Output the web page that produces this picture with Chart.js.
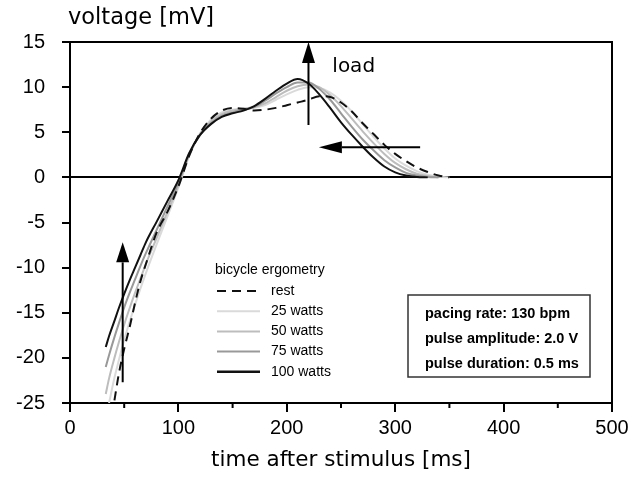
<!DOCTYPE html>
<html>
<head>
<meta charset="utf-8">
<script src="https://cdn.jsdelivr.net/npm/chart.js@4.4.1/dist/chart.umd.min.js"></script>
<style>
  body { margin: 0; background: #fff; }
  #wrap { width: 644px; height: 477px; position: relative; }
</style>
</head>
<body>
<div id="wrap"><canvas id="myChart"></canvas></div>
<script>
'use strict'
// time after stimulus [ms]
let times = [33, 36, 41, 45, 50, 55, 60, 65, 70, 80, 90, 100, 110, 120, 130, 140, 150, 160, 170, 180,
  190, 200, 210, 220, 230, 240, 250, 260, 270, 280, 290, 300, 310, 320, 330, 340, 350]
// voltage [mV] per load level
let rest = [null, null, -24.7, -21.8, -19.0, -16.6, -13.9, -11.5, -9.6, -6.1, -3.8, -1.0, 2.4, 4.9, 6.5, 7.4, 7.7, 7.6, 7.4, 7.5,
  7.7, 8.0, 8.3, 8.6, 9.0, 8.9, 8.3, 7.3, 6.0, 4.8, 3.6, 2.6, 1.8, 1.1, 0.6, 0.2, 0]
let watts25 = [null, -25.0, -22.2, -20.3, -18.0, -16.0, -14.1, -12.3, -10.6, -7.4, -4.3, -1.1, 2.4, 4.9, 6.4, 7.2, 7.5, 7.6, 7.7, 8.0,
  8.6, 9.2, 9.7, 10.0, 9.9, 9.4, 8.5, 7.3, 5.9, 4.5, 3.2, 2.1, 1.3, 0.7, 0.3, 0.08, 0]
let watts50 = [-24.0, -22.3, -20.0, -18.3, -16.3, -14.5, -12.8, -11.2, -9.6, -6.7, -3.8, -0.9, 2.5, 4.8, 6.2, 7.0, 7.4, 7.6, 7.8, 8.2,
  8.9, 9.6, 10.1, 10.3, 10.0, 9.1, 7.9, 6.5, 5.1, 3.8, 2.6, 1.6, 0.9, 0.4, 0.15, 0, null]
let watts75 = [-21.0, -19.7, -17.7, -16.2, -14.4, -12.8, -11.3, -9.8, -8.4, -5.8, -3.2, -0.6, 2.6, 4.7, 6.0, 6.8, 7.2, 7.5, 7.8, 8.5,
  9.3, 10.0, 10.5, 10.5, 9.8, 8.6, 7.1, 5.6, 4.2, 3.0, 1.9, 1.1, 0.5, 0.2, 0.05, 0, null]
let watts100 = [-18.8, -17.6, -15.9, -14.5, -12.9, -11.4, -10.0, -8.6, -7.2, -4.9, -2.6, -0.3, 2.7, 4.7, 5.9, 6.7, 7.1, 7.4, 7.9, 8.7,
  9.6, 10.4, 10.9, 10.4, 9.2, 7.7, 6.1, 4.7, 3.4, 2.2, 1.2, 0.55, 0.2, 0.05, 0, null, null]
let seriesNames = ['rest', '25 watts', '50 watts', '75 watts', '100 watts']
let infoLines = ['pacing rate: 130 bpm', 'pulse amplitude: 2.0 V', 'pulse duration: 0.5 ms']
let yTicks = [-25, -20, -15, -10, -5, 0, 5, 10, 15]

function toPoints(values) {
  let pts = []
  for (let i = 0; i < times.length; i++) {
    if (values[i] !== null) pts.push({ x: times[i], y: values[i] })
  }
  return pts
}

function makeSet(name, values, color, width, dash, order) {
  return {
    label: name,
    data: toPoints(values),
    borderColor: color,
    borderWidth: width,
    borderDash: dash,
    pointRadius: 0,
    fill: false,
    cubicInterpolationMode: 'monotone',
    order: order
  }
}

function drawArrow(ctx, x1, y1, x2, y2, len, half) {
  let ang = Math.atan2(y2 - y1, x2 - x1)
  let bx = x2 - len * Math.cos(ang)
  let by = y2 - len * Math.sin(ang)
  ctx.beginPath()
  ctx.moveTo(x1, y1)
  ctx.lineTo(bx, by)
  ctx.stroke()
  ctx.beginPath()
  ctx.moveTo(x2, y2)
  ctx.lineTo(bx + half * Math.sin(ang), by - half * Math.cos(ang))
  ctx.lineTo(bx - half * Math.sin(ang), by + half * Math.cos(ang))
  ctx.closePath()
  ctx.fill()
}

// frame, minor ticks, arrows, legend and info box
let extras = {
  id: 'extras',
  afterDraw(chart) {
    let ctx = chart.ctx
    let a = chart.chartArea
    let x = chart.scales.x
    let y = chart.scales.y
    ctx.save()
    ctx.strokeStyle = '#000'
    ctx.fillStyle = '#000'
    ctx.lineWidth = 2
    ctx.beginPath()
    ctx.moveTo(a.left - 1, a.top)
    ctx.lineTo(a.right, a.top)
    ctx.lineTo(a.right, a.bottom)
    ctx.stroke()

    // minor ticks on the time axis
    for (let t = 50; t < 500; t += 100) {
      let px = x.getPixelForValue(t)
      ctx.beginPath()
      ctx.moveTo(px, a.bottom)
      ctx.lineTo(px, a.bottom + 5)
      ctx.stroke()
    }

    // y axis title
    ctx.font = '22.5px "DejaVu Sans"'
    ctx.textAlign = 'left'
    ctx.textBaseline = 'alphabetic'
    ctx.fillText('voltage [mV]', a.left - 2, 24)

    // arrows
    ctx.lineWidth = 2
    drawArrow(ctx, x.getPixelForValue(220), y.getPixelForValue(5.8), x.getPixelForValue(220), y.getPixelForValue(15), 21, 6.5)
    drawArrow(ctx, x.getPixelForValue(323), y.getPixelForValue(3.33), x.getPixelForValue(229.6), y.getPixelForValue(3.33), 23, 6)
    drawArrow(ctx, x.getPixelForValue(48.6), y.getPixelForValue(-22.7), x.getPixelForValue(48.6), y.getPixelForValue(-7.2), 20, 6.5)
    ctx.font = '20px "DejaVu Sans"'
    ctx.textBaseline = 'middle'
    ctx.fillText('load', x.getPixelForValue(242), y.getPixelForValue(12.2))

    // legend
    ctx.font = '14px "Liberation Sans"'
    ctx.fillText('bicycle ergometry', 215, 270)
    let sets = chart.data.datasets
    for (let i = 0; i < sets.length; i++) {
      let ly = 291 + i * 20.2
      ctx.strokeStyle = sets[i].borderColor
      ctx.lineWidth = i === 4 ? 2.5 : 2
      ctx.setLineDash(sets[i].borderDash || [])
      ctx.beginPath()
      ctx.moveTo(217, ly)
      ctx.lineTo(260, ly)
      ctx.stroke()
      ctx.setLineDash([])
      ctx.fillText(sets[i].label, 271, ly)
    }

    // info box
    ctx.strokeStyle = '#333'
    ctx.lineWidth = 1.5
    ctx.strokeRect(408, 295, 182, 82)
    ctx.font = 'bold 14.5px "Liberation Sans"'
    for (let i = 0; i < infoLines.length; i++) {
      ctx.fillText(infoLines[i], 425, 314 + i * 25)
    }
    ctx.restore()
  }
}

let ctx = document.getElementById('myChart').getContext('2d')
let myChart = new Chart(ctx, {
  type: 'line',
  data: {
    datasets: [
      makeSet(seriesNames[0], rest, '#111111', 2, [9, 6], 0),
      makeSet(seriesNames[1], watts25, '#dadada', 2, [], 4),
      makeSet(seriesNames[2], watts50, '#bdbdbd', 2, [], 3),
      makeSet(seriesNames[3], watts75, '#999999', 2, [], 2),
      makeSet(seriesNames[4], watts100, '#111111', 2, [], 1)
    ]
  },
  plugins: [extras],
  options: {
    responsive: true,
    maintainAspectRatio: false,
    animation: false,
    layout: { padding: { top: 42, right: 32, left: 0, bottom: 0 } },
    plugins: {
      legend: { display: false },
      title: { display: false },
      tooltip: { enabled: false }
    },
    scales: {
      x: {
        type: 'linear',
        min: 0,
        max: 500,
        afterFit: function (scale) { scale.height = 74 },
        border: { color: '#000', width: 2 },
        grid: { drawOnChartArea: false, color: '#000', tickColor: '#000', tickLength: 9, lineWidth: 2 },
        ticks: {
          stepSize: 100,
          padding: 4,
          color: '#000',
          maxRotation: 0,
          font: { family: 'Liberation Sans', size: 20 }
        },
        title: {
          display: true,
          text: 'time after stimulus [ms]',
          color: '#000',
          font: { family: 'DejaVu Sans', size: 21.5 },
          padding: { top: 0, bottom: 4 }
        }
      },
      y: {
        min: -25,
        max: 15,
        afterFit: function (scale) { scale.width = 70 },
        afterBuildTicks: function (scale) { scale.ticks = yTicks.map(v => ({ value: v })) },
        border: { color: '#000', width: 2 },
        grid: {
          color: c => (c.tick && c.tick.value === 0 ? '#000' : 'rgba(0,0,0,0)'),
          lineWidth: 2,
          tickColor: '#000',
          tickLength: 8
        },
        ticks: {
          padding: 17,
          color: '#000',
          font: { family: 'Liberation Sans', size: 20 }
        }
      }
    }
  }
})
</script>
</body>
</html>
